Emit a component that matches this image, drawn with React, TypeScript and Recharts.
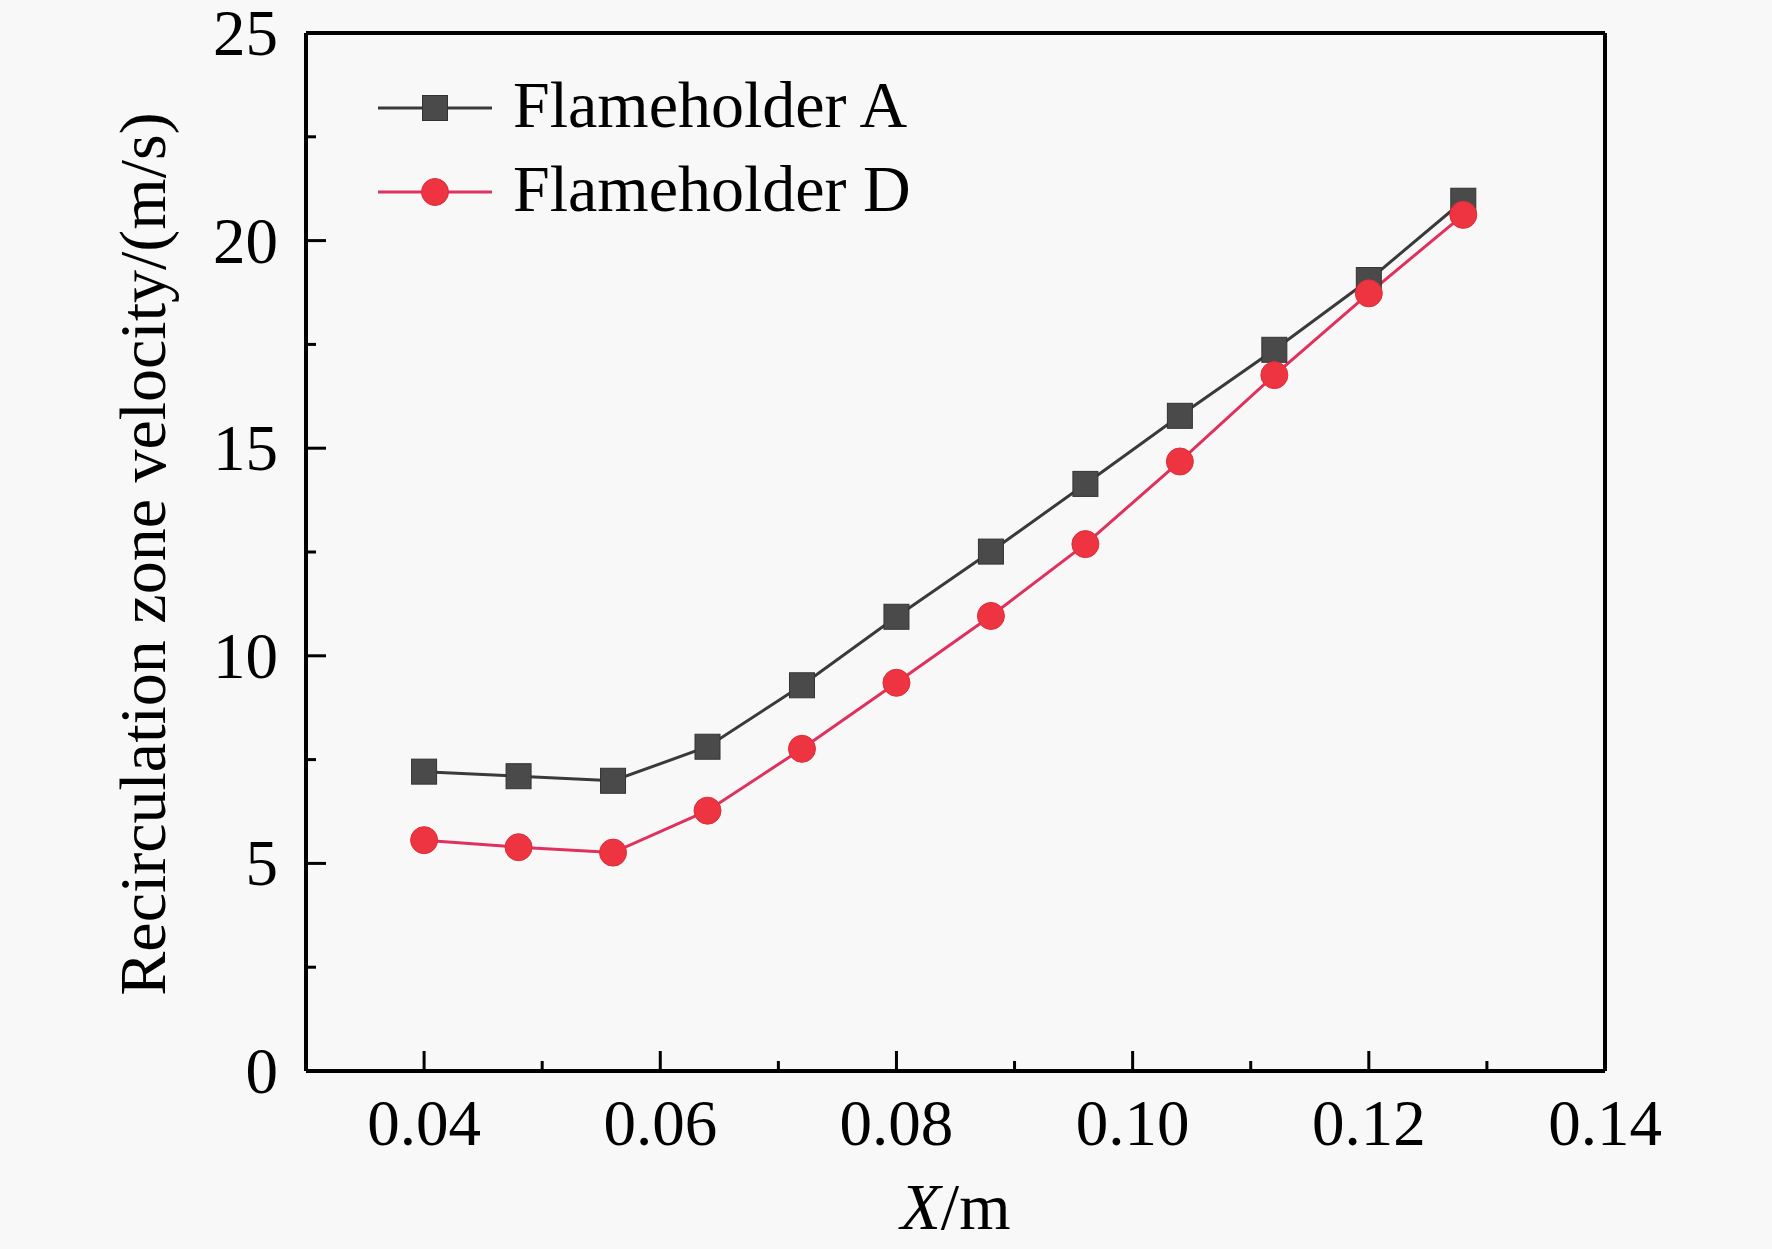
import React from 'react'
import { LineChart, Line, XAxis, YAxis, Legend } from 'recharts'

// X position (m) and recirculation zone velocity (m/s)
const xPositions = [0.04, 0.048, 0.056, 0.064, 0.072, 0.08, 0.088, 0.096, 0.104, 0.112, 0.12, 0.128]
const velocityA = [7.21, 7.1, 6.99, 7.81, 9.29, 10.94, 12.51, 14.14, 15.78, 17.37, 19.05, 20.96]
const velocityD = [5.56, 5.39, 5.26, 6.27, 7.76, 9.35, 10.96, 12.69, 14.68, 16.76, 18.73, 20.62]

const xTicks = [0.04, 0.05, 0.06, 0.07, 0.08, 0.09, 0.1, 0.11, 0.12, 0.13, 0.14]
const yTicks = [0, 2.5, 5, 7.5, 10, 12.5, 15, 17.5, 20, 22.5, 25]

const seriesNames = { a: 'Flameholder A', d: 'Flameholder D' }

const data = xPositions.map((x, i) => ({ x, a: velocityA[i], d: velocityD[i] }))

const FONT = '"Liberation Serif", "Times New Roman", serif'
const GREY = '#3a3a3a'
const SQUARE = '#4a4a4a'
const RED_LINE = '#e0305e'
const RED_DOT = '#ee3440'

const XTick = (props: any) => {
  const { x, y, payload } = props
  const v = payload.value
  const major = Math.round(v * 100) % 2 === 0
  return (
    <g>
      <line x1={x} x2={x} y1={y} y2={y - (major ? 20 : 10)} stroke="#000" strokeWidth={3} />
      {major && (
        <text x={x} y={y + 74} textAnchor="middle" fontFamily={FONT} fontSize={65} fill="#000">
          {v.toFixed(2)}
        </text>
      )}
    </g>
  )
}

const YTick = (props: any) => {
  const { x, y, payload } = props
  const v = payload.value
  const major = v % 5 === 0
  return (
    <g>
      <line x1={x} x2={x + (major ? 20 : 10)} y1={y} y2={y} stroke="#000" strokeWidth={3} />
      {major && (
        <text x={x - 28} y={y + 22} textAnchor="end" fontFamily={FONT} fontSize={65} fill="#000">
          {v}
        </text>
      )}
    </g>
  )
}

const XTitle = (props: any) => {
  const { viewBox } = props
  return (
    <text x={viewBox.x + viewBox.width / 2} y={1229} textAnchor="middle" fontFamily={FONT} fontSize={66} fill="#000">
      <tspan fontStyle="italic">X</tspan>
      <tspan>/m</tspan>
    </text>
  )
}

const YTitle = (props: any) => {
  const { viewBox } = props
  const cy = viewBox.y + viewBox.height / 2
  return (
    <text transform={`translate(165, ${cy + 2}) rotate(-90)`} textAnchor="middle" fontFamily={FONT} fontSize={66} fill="#000">
      Recirculation zone velocity/(m/s)
    </text>
  )
}

const SquareDot = (props: any) => {
  const { cx, cy } = props
  if (cx == null || cy == null) return null
  return <rect x={cx - 12.5} y={cy - 12.5} width={25} height={25} fill={SQUARE} stroke="#333" strokeWidth={1} />
}

const CircleDot = (props: any) => {
  const { cx, cy } = props
  if (cx == null || cy == null) return null
  return <circle cx={cx} cy={cy} r={13.5} fill={RED_DOT} stroke="#d8303a" strokeWidth={1} />
}

const LegendBox = (props: any) => {
  const items = props.payload || []
  return (
    <svg width={1100} height={240} style={{ display: 'block' }}>
      {items.map((item: any, i: number) => {
        const y = 108 + i * 84
        const isA = item.dataKey === 'a'
        return (
          <g key={item.dataKey}>
            <line x1={378} x2={492} y1={y} y2={y} stroke={isA ? GREY : RED_LINE} strokeWidth={3} />
            {isA ? (
              <rect x={435 - 12.5} y={y - 12.5} width={25} height={25} fill={SQUARE} stroke="#333" strokeWidth={1} />
            ) : (
              <circle cx={435} cy={y} r={13.5} fill={RED_DOT} stroke="#d8303a" strokeWidth={1} />
            )}
            <text x={513} y={y + 19} fontFamily={FONT} fontSize={66} fill="#000">
              {item.value}
            </text>
          </g>
        )
      })}
    </svg>
  )
}

export default function App() {
  return (
    <div style={{ position: 'absolute', left: 0, top: 0, width: 1772, height: 1249, background: '#f8f8f8' }}>
      <LineChart width={1772} height={1249} data={data} margin={{ top: 32, right: 166, bottom: 177, left: 305 }}>
        <XAxis
          dataKey="x"
          type="number"
          domain={[0.03, 0.14]}
          ticks={xTicks}
          interval={0}
          height={1}
          tickSize={0}
          tickMargin={0}
          tickLine={false}
          tick={XTick}
          axisLine={{ stroke: '#000', strokeWidth: 4 }}
          label={{ content: XTitle }}
        />
        <XAxis xAxisId="top" orientation="top" dataKey="x" type="number" domain={[0.03, 0.14]} height={1} tick={false} tickLine={false} axisLine={{ stroke: '#000', strokeWidth: 4 }} />
        <YAxis
          type="number"
          domain={[0, 25]}
          ticks={yTicks}
          interval={0}
          width={1}
          tickSize={0}
          tickMargin={0}
          tickLine={false}
          tick={YTick}
          axisLine={{ stroke: '#000', strokeWidth: 4 }}
          label={{ content: YTitle }}
        />
        <YAxis yAxisId="right" orientation="right" type="number" domain={[0, 25]} width={1} tick={false} tickLine={false} axisLine={{ stroke: '#000', strokeWidth: 4 }} />
        <Legend
          layout="vertical"
          align="center"
          verticalAlign="middle"
          content={LegendBox}
          wrapperStyle={{ position: 'absolute', left: 0, top: 0, width: 1100, height: 240 }}
        />
        <Line
          dataKey="a"
          name={seriesNames.a}
          stroke={GREY}
          strokeWidth={3}
          dot={SquareDot}
          activeDot={false}
          isAnimationActive={false}
        />
        <Line
          dataKey="d"
          name={seriesNames.d}
          stroke={RED_LINE}
          strokeWidth={3}
          dot={CircleDot}
          activeDot={false}
          isAnimationActive={false}
        />
      </LineChart>
    </div>
  )
}
